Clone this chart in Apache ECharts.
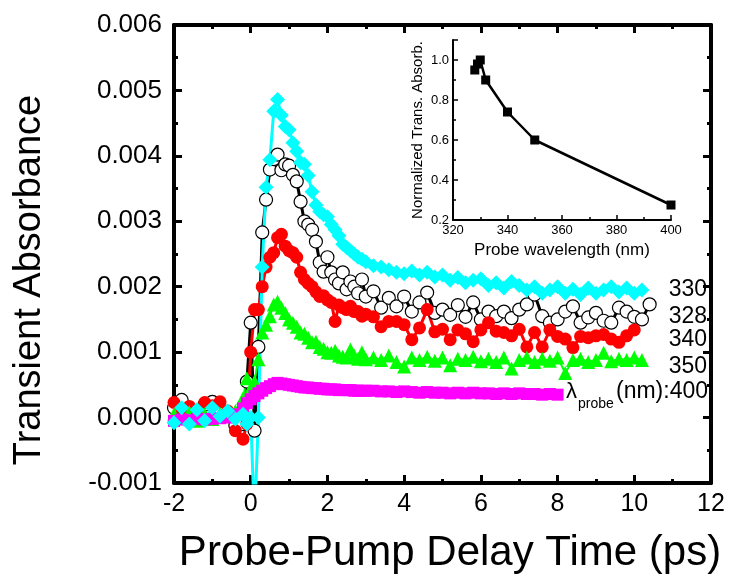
<!DOCTYPE html>
<html><head><meta charset="utf-8">
<script src="https://cdn.jsdelivr.net/npm/echarts@6/dist/echarts.min.js"></script>
<style>html,body{margin:0;padding:0;background:#fff}#c{width:739px;height:579px}</style>
</head><body><div id="c"></div>
<script>
// Delay times (ps)
const times = [-2.0,-1.8,-1.6,-1.4,-1.2,-1.0,-0.8,-0.6,-0.4,-0.2,
  -0.1,0.0,0.1,0.2,0.3,0.4,0.5,0.6,0.7,0.8,0.9,1.0,1.1,1.2,1.3,1.4,1.5,1.6,1.7,1.8,1.9,2.0,2.1,2.2,2.3,2.4,2.5,2.6,2.7,2.8,2.9,3.0,
  3.2,3.4,3.6,3.8,4.0,4.2,4.4,4.6,4.8,5.0,5.2,5.4,5.6,5.8,6.0,6.2,6.4,6.6,6.8,7.0,7.2,7.4,7.6,7.8,8.0,8.2,8.4,8.6,8.8,9.0,9.2,9.4,9.6,9.8,10.0,10.2,10.4];
// Transient absorbance in units of 1e-3
const abs330 = [-0.08,0.15,-0.10,0.12,-0.05,0.15,0.02,0.10,-0.02,0.05,
  -0.10,0.00,-1.60,0.00,2.30,3.52,3.94,4.68,4.86,4.62,4.45,4.40,4.20,4.07,3.90,3.87,3.70,3.45,3.25,3.15,3.10,3.07,2.95,2.87,2.78,2.65,2.60,2.55,2.50,2.45,2.42,2.38,
  2.32,2.30,2.26,2.22,2.20,2.24,2.18,2.22,2.15,2.18,2.10,2.14,2.06,2.10,2.12,2.02,2.06,1.98,2.08,2.02,1.95,2.00,1.90,1.95,2.00,1.90,1.96,1.88,1.98,1.90,1.95,2.00,1.92,1.98,1.90,1.95,null];
const abs328 = [0.15,0.27,0.12,0.05,0.20,0.24,0.10,0.05,-0.12,-0.10,
  0.55,1.45,-0.20,1.08,2.83,3.33,3.79,3.95,4.02,3.78,3.87,3.85,3.71,3.61,3.30,3.00,2.95,2.87,2.69,2.37,2.23,2.45,2.22,2.11,2.05,2.22,1.96,2.08,2.00,1.90,2.11,1.85,
  1.93,1.68,1.83,1.70,1.85,1.62,1.76,1.91,1.60,1.65,1.57,1.72,1.54,1.76,1.50,1.62,1.55,1.62,1.52,1.65,1.73,1.88,1.55,1.45,1.50,1.62,1.70,1.45,1.53,1.60,1.48,1.45,1.68,1.62,1.54,1.50,1.73];
const abs340 = [0.23,0.12,0.17,0.05,0.23,0.18,0.24,0.10,-0.20,-0.33,
  -0.10,1.00,1.65,1.65,2.00,2.30,2.45,2.52,2.75,2.80,2.62,2.55,2.52,2.45,2.22,2.11,2.05,2.00,1.92,1.85,1.86,1.80,1.76,1.47,1.72,1.68,1.65,1.70,1.62,1.62,1.55,1.58,
  1.54,1.39,1.47,1.47,1.42,1.19,1.37,1.65,1.31,1.35,1.19,1.34,1.28,1.16,1.34,1.45,1.32,1.30,1.25,1.35,1.08,1.30,1.08,1.34,1.24,1.20,1.07,1.24,1.22,1.25,1.27,1.20,1.15,1.25,1.34,null,null];
const abs350 = [0.05,0.00,0.08,-0.05,0.05,-0.02,0.06,0.10,0.10,0.30,
  0.60,0.45,0.55,0.89,1.30,1.42,1.55,1.73,1.77,1.68,1.60,1.50,1.45,1.39,1.30,1.28,1.22,1.15,1.16,1.08,1.05,1.00,0.99,1.02,0.95,0.93,0.92,1.04,0.95,0.90,1.00,0.89,
  0.92,0.88,0.95,0.85,0.78,0.92,0.88,0.93,0.87,0.92,0.80,0.90,0.88,0.93,0.86,0.90,0.85,0.92,0.75,0.88,0.92,0.85,0.90,0.87,0.92,0.68,0.88,0.90,0.85,0.88,0.99,0.86,0.90,0.88,0.92,0.88,null];
const abs400 = [-0.05,-0.03,-0.04,-0.02,-0.03,-0.02,-0.01,0.00,0.05,0.14,
  0.22,0.28,0.33,0.37,0.41,0.45,0.48,0.51,0.53,0.52,0.51,0.50,0.49,0.48,0.47,0.46,0.46,0.45,0.45,0.44,0.44,0.43,0.43,0.43,0.42,0.42,0.42,0.42,0.41,0.41,0.41,0.41,
  0.41,0.40,0.40,0.39,0.40,0.39,0.38,0.39,0.38,0.38,0.37,0.38,0.37,0.38,0.37,0.37,0.36,0.37,0.36,0.37,0.36,0.36,0.35,0.36,0.35,null,null,null,null,null,null,null,null,null,null,null,null];
// Inset
const insetWavelength = [328,329,330,332,340,350,400];
const insetNorm = [0.95,0.98,1.00,0.90,0.74,0.60,0.275];
// Labels
const waveLabels = ['330','328','340','350'];

const FONT = "'Liberation Sans', Arial, sans-serif";
function pairs(arr){ const out=[]; times.forEach((t,i)=>{ if(arr[i]!==null) out.push([t,arr[i]]); }); return out; }

const chart = echarts.init(document.getElementById('c'), null, {renderer:'canvas'});
const axLine = {onZero:false, lineStyle:{color:'#000', width:4}};
const mainTick = {inside:true, length:8, lineStyle:{color:'#000', width:3}};
const mainMinor = {show:true, splitNumber:2, length:4, lineStyle:{color:'#000', width:3}};
const insetLine = {onZero:false, lineStyle:{color:'#000', width:2}};
const insetTick = {inside:true, length:5, lineStyle:{color:'#000', width:1.5}};
const insetMinor = {show:true, splitNumber:2, length:3, lineStyle:{color:'#000', width:1.5}};

function mkSeries(name, arr, symbol, size, color, lw, item){
  return {name, type:'line', xAxisIndex:0, yAxisIndex:0, data:pairs(arr), symbol, symbolSize:size,
    showSymbol:true, clip:true, lineStyle:{color, width:lw}, itemStyle:item || {color},
    emphasis:{disabled:true}};
}

const rightLabelY = [290, 317, 340, 367];
const graphics = [
  {type:'text', x:30, y:280, rotation:Math.PI/2, style:{text:'Transient Absorbance', fontSize:38, fontFamily:FONT, fill:'#000', align:'center', verticalAlign:'middle'}},
  {type:'text', x:450, y:553, style:{text:'Probe-Pump Delay Time (ps)', fontSize:42, fontFamily:FONT, fill:'#000', align:'center', verticalAlign:'middle'}},
  {type:'text', x:566, y:392, style:{text:'λ', fontSize:22, fontFamily:FONT, fill:'#000', align:'left', verticalAlign:'middle'}},
  {type:'text', x:578, y:404, style:{text:'probe', fontSize:14, fontFamily:FONT, fill:'#000', align:'left', verticalAlign:'middle'}},
  {type:'text', x:708, y:392, style:{text:'(nm):400', fontSize:23, fontFamily:FONT, fill:'#000', align:'right', verticalAlign:'middle'}}
];
waveLabels.forEach((t,i)=>graphics.push({type:'text', x:707, y:rightLabelY[i], style:{text:t, fontSize:23, fontFamily:FONT, fill:'#000', align:'right', verticalAlign:'middle'}}));

chart.setOption({
  animation:false,
  backgroundColor:'#fff',
  grid:[
    {left:174, right:28, top:25, bottom:96},
    {left:453, right:68, top:40, bottom:359}
  ],
  xAxis:[
    {type:'value', gridIndex:0, min:-2, max:12, interval:2, position:'bottom', axisLine:axLine, axisTick:mainTick, minorTick:mainMinor,
      axisLabel:{fontSize:25, color:'#000', fontFamily:FONT, margin:9}, splitLine:{show:false}},
    {type:'value', gridIndex:0, min:-2, max:12, interval:2, position:'top', axisLine:axLine, axisTick:mainTick, minorTick:mainMinor,
      axisLabel:{show:false}, splitLine:{show:false}},
    {type:'value', gridIndex:1, min:320, max:400, interval:20, position:'bottom', axisLine:insetLine, axisTick:insetTick, minorTick:insetMinor,
      axisLabel:{fontSize:13, color:'#000', fontFamily:FONT, margin:4}, splitLine:{show:false},
      name:'Probe wavelength (nm)', nameLocation:'middle', nameGap:22, nameTextStyle:{fontSize:17, color:'#000', fontFamily:FONT}}
  ],
  yAxis:[
    {type:'value', gridIndex:0, min:-1, max:6, interval:1, position:'left', axisLine:axLine, axisTick:mainTick, minorTick:mainMinor,
      axisLabel:{fontSize:26, color:'#000', fontFamily:FONT, margin:12, formatter:v=>(v/1000).toFixed(3)}, splitLine:{show:false}},
    {type:'value', gridIndex:0, min:-1, max:6, interval:1, position:'right', axisLine:axLine, axisTick:mainTick, minorTick:mainMinor,
      axisLabel:{show:false}, splitLine:{show:false}},
    {type:'value', gridIndex:1, min:0.2, max:1.1, interval:0.2, position:'left', axisLine:insetLine, axisTick:insetTick, minorTick:insetMinor,
      axisLabel:{fontSize:13, color:'#000', fontFamily:FONT, margin:4, showMaxLabel:false, formatter:v=>v.toFixed(1)}, splitLine:{show:false},
      name:'Normalized Trans. Absorb.', nameLocation:'middle', nameGap:28, nameTextStyle:{fontSize:15, color:'#000', fontFamily:FONT}}
  ],
  series:[
    mkSeries('328', abs328, 'circle', 13, '#000', 3, {color:'#fff', borderColor:'#000', borderWidth:1.2}),
    mkSeries('340', abs340, 'circle', 13, '#ff0000', 3),
    mkSeries('350', abs350, 'triangle', 14, '#00ff00', 2),
    mkSeries('400', abs400, 'rect', 12, '#ff00ff', 2),
    mkSeries('330', abs330, 'diamond', 15, '#00ffff', 3),
    {type:'line', xAxisIndex:2, yAxisIndex:2, data:insetWavelength.map((w,i)=>[w, insetNorm[i]]), symbol:'rect', symbolSize:9,
      lineStyle:{color:'#000', width:2.5}, itemStyle:{color:'#000'}, emphasis:{disabled:true}}
  ],
  graphic:graphics
});
</script></body></html>
